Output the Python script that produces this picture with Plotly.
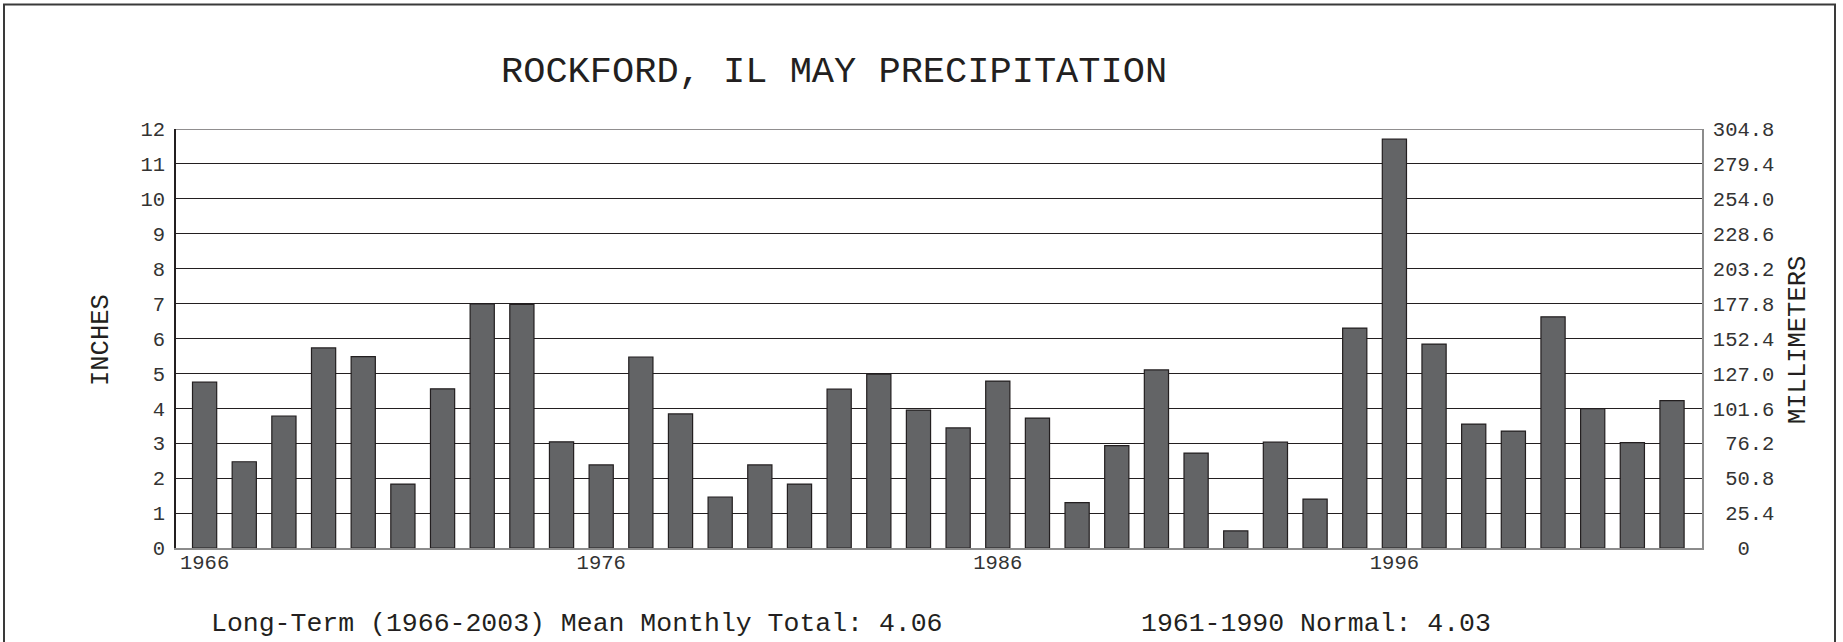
import plotly.graph_objects as go

years = list(range(1966, 2004))
inches = [4.75, 2.47, 3.78, 5.73, 5.48, 1.83, 4.56, 6.99, 6.98, 3.04,
          2.38, 5.47, 3.84, 1.46, 2.38, 1.83, 4.55, 4.98, 3.95, 3.44,
          4.78, 3.72, 1.30, 2.93, 5.10, 2.72, 0.49, 3.03, 1.40, 6.30,
          11.71, 5.84, 3.55, 3.35, 6.62, 3.99, 3.02, 4.22]
in_ticks = list(range(0, 13))
mm_ticks = [round(v * 25.4, 1) for v in in_ticks]
mm_text = ["\u00a0\u00a00", "\u00a025.4", "\u00a050.8", "\u00a076.2", "101.6", "127.0",
           "152.4", "177.8", "203.2", "228.6", "254.0", "279.4", "304.8"]
x_ticks = [1966, 1976, 1986, 1996]
title = "ROCKFORD, IL MAY PRECIPITATION"
foot_left = "Long-Term (1966-2003) Mean Monthly Total: 4.06"
foot_right = "1961-1990 Normal: 4.03"

FONT = "Courier New, Liberation Mono, monospace"
W, H = 1843, 642
L, R, T, B = 176, 141, 129, 94
PW, PH = W - L - R, H - T - B

def px(x):
    return (x - L) / PW

def py(y):
    return (H - B - y) / PH

fig = go.Figure()
fig.add_trace(go.Bar(x=years, y=inches, width=0.61,
                     marker=dict(color="#636466", line=dict(color="#231f20", width=1.2)),
                     hoverinfo="x+y"))
fig.add_trace(go.Scatter(x=years, y=[v * 25.4 for v in inches], yaxis="y2",
                         mode="markers", marker=dict(opacity=0), hoverinfo="skip",
                         showlegend=False))

fig.update_layout(
    width=W, height=H, margin=dict(l=L, r=R, t=T, b=B),
    paper_bgcolor="white", plot_bgcolor="white", showlegend=False,
    font=dict(family=FONT, color="#231f20"),
    xaxis=dict(range=[1965.279, 2003.756], tickvals=x_ticks, ticks="",
               showgrid=False, zeroline=False, showline=True, linecolor="#8c8c8c",
               linewidth=1.5, tickfont=dict(size=20.5, color="#333"),
               ticklabelstandoff=-5),
    yaxis=dict(range=[0, 12], tickvals=in_ticks, ticks="", showgrid=True,
               gridcolor="#231f20", gridwidth=1, zeroline=False, showline=True,
               linecolor="#231f20", linewidth=1.5, tickfont=dict(size=20.5, color="#333"),
               ticklabelstandoff=5),
    yaxis2=dict(range=[0, 304.8], overlaying="y", side="right", tickvals=mm_ticks,
                ticktext=mm_text, ticks="", showgrid=False, zeroline=False,
                showline=True, linecolor="#8c8c8c", linewidth=1.5,
                tickfont=dict(size=20.5, color="#333"), ticklabelstandoff=5),
    bargap=0.4,
)

fig.add_shape(type="line", xref="paper", yref="y", x0=0, x1=1, y0=12, y1=12,
              line=dict(color="#231f20", width=1.2))
# outer frame
fig.add_shape(type="rect", xref="paper", yref="paper",
              x0=px(4), x1=px(1835), y0=py(700), y1=py(4.5),
              line=dict(color="#3a3a3a", width=2), layer="below")

anns = [
    dict(text=title, x=px(833.5), y=py(72), size=37, angle=0),
    dict(text="INCHES", x=px(101), y=py(340), size=25.5, angle=-90),
    dict(text="MILLIMETERS", x=px(1798), y=py(340), size=25.5, angle=-90),
    dict(text=foot_left, x=px(576.5), y=py(624), size=26.5, angle=0),
    dict(text=foot_right, x=px(1316), y=py(624), size=26.5, angle=0),
]
for a in anns:
    fig.add_annotation(text=a["text"], x=a["x"], y=a["y"], xref="paper", yref="paper",
                       xanchor="center", yanchor="middle", showarrow=False,
                       textangle=a["angle"],
                       font=dict(family=FONT, size=a["size"], color="#231f20"))

fig.write_html("out.html", config={"displayModeBar": False},
               post_script="document.body.style.margin='0';document.body.style.overflow='hidden';")
